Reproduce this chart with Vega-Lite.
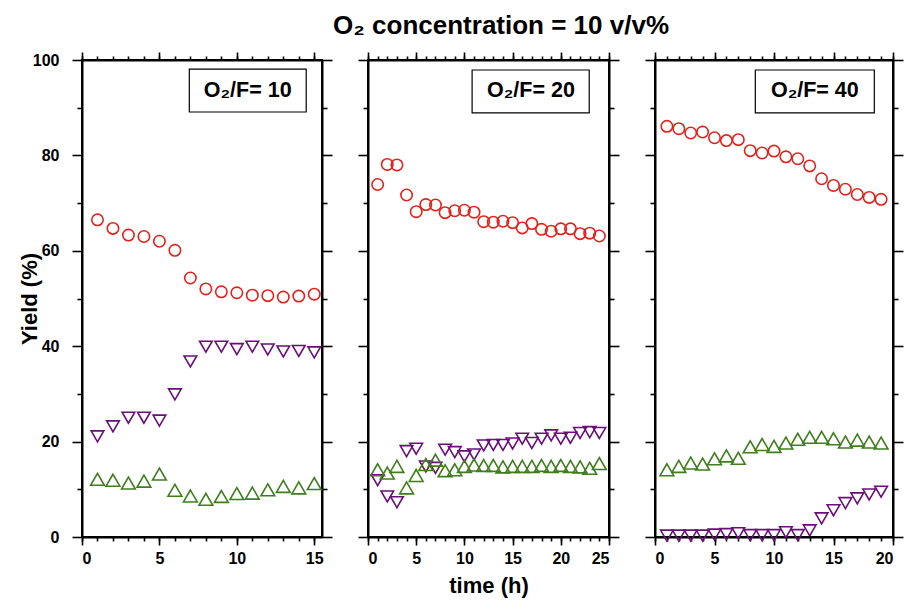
{
  "$schema": "https://vega.github.io/schema/vega-lite/v6.json",
  "background": "white",
  "padding": {"left": 17, "top": 13, "right": 5, "bottom": 5},
  "title": {"text": "O₂ concentration = 10 v/v%", "font": "Liberation Sans", "fontSize": 26, "fontWeight": "bold", "color": "black", "anchor": "middle", "offset": 11, "dx": 40},
  "spacing": 22,
  "config": {
    "view": {"stroke": "black", "strokeWidth": 2},
    "axis": {"grid": false, "domainColor": "black", "domainWidth": 2, "tickColor": "black", "tickWidth": 1.6, "labelFont": "Liberation Sans", "labelColor": "black", "labelFontSize": 16, "labelFontWeight": "bold", "titleFont": "Liberation Sans", "titleColor": "black", "titleFontWeight": "bold", "titleFontSize": 22}
  },
  "datasets": {
    "yields": [
      {"panel": "10", "t": 1, "series": "S1", "y": 66.5}, {"panel": "10", "t": 2, "series": "S1", "y": 64.7}, {"panel": "10", "t": 3, "series": "S1", "y": 63.3}, {"panel": "10", "t": 4, "series": "S1", "y": 63.0}, {"panel": "10", "t": 5, "series": "S1", "y": 62.0}, {"panel": "10", "t": 6, "series": "S1", "y": 60.1}, {"panel": "10", "t": 7, "series": "S1", "y": 54.3}, {"panel": "10", "t": 8, "series": "S1", "y": 52.0}, {"panel": "10", "t": 9, "series": "S1", "y": 51.4}, {"panel": "10", "t": 10, "series": "S1", "y": 51.2}, {"panel": "10", "t": 11, "series": "S1", "y": 50.7}, {"panel": "10", "t": 12, "series": "S1", "y": 50.6}, {"panel": "10", "t": 13, "series": "S1", "y": 50.3}, {"panel": "10", "t": 14, "series": "S1", "y": 50.5}, {"panel": "10", "t": 15, "series": "S1", "y": 50.9},
      {"panel": "10", "t": 1, "series": "S2", "y": 21.1}, {"panel": "10", "t": 2, "series": "S2", "y": 23.2}, {"panel": "10", "t": 3, "series": "S2", "y": 25.0}, {"panel": "10", "t": 4, "series": "S2", "y": 25.0}, {"panel": "10", "t": 5, "series": "S2", "y": 24.4}, {"panel": "10", "t": 6, "series": "S2", "y": 29.9}, {"panel": "10", "t": 7, "series": "S2", "y": 36.8}, {"panel": "10", "t": 8, "series": "S2", "y": 39.9}, {"panel": "10", "t": 9, "series": "S2", "y": 39.9}, {"panel": "10", "t": 10, "series": "S2", "y": 39.4}, {"panel": "10", "t": 11, "series": "S2", "y": 39.9}, {"panel": "10", "t": 12, "series": "S2", "y": 39.3}, {"panel": "10", "t": 13, "series": "S2", "y": 38.9}, {"panel": "10", "t": 14, "series": "S2", "y": 39.0}, {"panel": "10", "t": 15, "series": "S2", "y": 38.7},
      {"panel": "10", "t": 1, "series": "S3", "y": 12.1}, {"panel": "10", "t": 2, "series": "S3", "y": 11.9}, {"panel": "10", "t": 3, "series": "S3", "y": 11.3}, {"panel": "10", "t": 4, "series": "S3", "y": 11.7}, {"panel": "10", "t": 5, "series": "S3", "y": 13.2}, {"panel": "10", "t": 6, "series": "S3", "y": 9.8}, {"panel": "10", "t": 7, "series": "S3", "y": 8.6}, {"panel": "10", "t": 8, "series": "S3", "y": 7.9}, {"panel": "10", "t": 9, "series": "S3", "y": 8.5}, {"panel": "10", "t": 10, "series": "S3", "y": 9.1}, {"panel": "10", "t": 11, "series": "S3", "y": 9.2}, {"panel": "10", "t": 12, "series": "S3", "y": 9.9}, {"panel": "10", "t": 13, "series": "S3", "y": 10.6}, {"panel": "10", "t": 14, "series": "S3", "y": 10.3}, {"panel": "10", "t": 15, "series": "S3", "y": 11.2},

      {"panel": "20", "t": 1, "series": "S1", "y": 73.9}, {"panel": "20", "t": 2, "series": "S1", "y": 78.1}, {"panel": "20", "t": 3, "series": "S1", "y": 78.0}, {"panel": "20", "t": 4, "series": "S1", "y": 71.7}, {"panel": "20", "t": 5, "series": "S1", "y": 68.2}, {"panel": "20", "t": 6, "series": "S1", "y": 69.7}, {"panel": "20", "t": 7, "series": "S1", "y": 69.6}, {"panel": "20", "t": 8, "series": "S1", "y": 68.0}, {"panel": "20", "t": 9, "series": "S1", "y": 68.4}, {"panel": "20", "t": 10, "series": "S1", "y": 68.5}, {"panel": "20", "t": 11, "series": "S1", "y": 68.1}, {"panel": "20", "t": 12, "series": "S1", "y": 66.1}, {"panel": "20", "t": 13, "series": "S1", "y": 66.0}, {"panel": "20", "t": 14, "series": "S1", "y": 66.2}, {"panel": "20", "t": 15, "series": "S1", "y": 65.9}, {"panel": "20", "t": 16, "series": "S1", "y": 64.8}, {"panel": "20", "t": 17, "series": "S1", "y": 65.7}, {"panel": "20", "t": 18, "series": "S1", "y": 64.5}, {"panel": "20", "t": 19, "series": "S1", "y": 64.1}, {"panel": "20", "t": 20, "series": "S1", "y": 64.6}, {"panel": "20", "t": 21, "series": "S1", "y": 64.6}, {"panel": "20", "t": 22, "series": "S1", "y": 63.6}, {"panel": "20", "t": 23, "series": "S1", "y": 63.7}, {"panel": "20", "t": 24, "series": "S1", "y": 63.1},
      {"panel": "20", "t": 1, "series": "S2", "y": 11.9}, {"panel": "20", "t": 2, "series": "S2", "y": 8.5}, {"panel": "20", "t": 3, "series": "S2", "y": 7.3}, {"panel": "20", "t": 4, "series": "S2", "y": 18.0}, {"panel": "20", "t": 5, "series": "S2", "y": 18.5}, {"panel": "20", "t": 6, "series": "S2", "y": 14.8}, {"panel": "20", "t": 7, "series": "S2", "y": 14.5}, {"panel": "20", "t": 8, "series": "S2", "y": 18.3}, {"panel": "20", "t": 9, "series": "S2", "y": 17.8}, {"panel": "20", "t": 10, "series": "S2", "y": 16.9}, {"panel": "20", "t": 11, "series": "S2", "y": 17.3}, {"panel": "20", "t": 12, "series": "S2", "y": 19.2}, {"panel": "20", "t": 13, "series": "S2", "y": 19.3}, {"panel": "20", "t": 14, "series": "S2", "y": 19.3}, {"panel": "20", "t": 15, "series": "S2", "y": 19.6}, {"panel": "20", "t": 16, "series": "S2", "y": 20.6}, {"panel": "20", "t": 17, "series": "S2", "y": 19.7}, {"panel": "20", "t": 18, "series": "S2", "y": 20.6}, {"panel": "20", "t": 19, "series": "S2", "y": 21.3}, {"panel": "20", "t": 20, "series": "S2", "y": 20.6}, {"panel": "20", "t": 21, "series": "S2", "y": 20.8}, {"panel": "20", "t": 22, "series": "S2", "y": 21.8}, {"panel": "20", "t": 23, "series": "S2", "y": 22.0}, {"panel": "20", "t": 24, "series": "S2", "y": 21.8},
      {"panel": "20", "t": 1, "series": "S3", "y": 14.1}, {"panel": "20", "t": 2, "series": "S3", "y": 13.4}, {"panel": "20", "t": 3, "series": "S3", "y": 14.8}, {"panel": "20", "t": 4, "series": "S3", "y": 10.3}, {"panel": "20", "t": 5, "series": "S3", "y": 12.9}, {"panel": "20", "t": 6, "series": "S3", "y": 15.2}, {"panel": "20", "t": 7, "series": "S3", "y": 16.1}, {"panel": "20", "t": 8, "series": "S3", "y": 13.9}, {"panel": "20", "t": 9, "series": "S3", "y": 14.1}, {"panel": "20", "t": 10, "series": "S3", "y": 14.8}, {"panel": "20", "t": 11, "series": "S3", "y": 15.1}, {"panel": "20", "t": 12, "series": "S3", "y": 15.0}, {"panel": "20", "t": 13, "series": "S3", "y": 15.0}, {"panel": "20", "t": 14, "series": "S3", "y": 14.7}, {"panel": "20", "t": 15, "series": "S3", "y": 14.8}, {"panel": "20", "t": 16, "series": "S3", "y": 14.8}, {"panel": "20", "t": 17, "series": "S3", "y": 14.8}, {"panel": "20", "t": 18, "series": "S3", "y": 15.0}, {"panel": "20", "t": 19, "series": "S3", "y": 14.8}, {"panel": "20", "t": 20, "series": "S3", "y": 15.0}, {"panel": "20", "t": 21, "series": "S3", "y": 14.8}, {"panel": "20", "t": 22, "series": "S3", "y": 14.7}, {"panel": "20", "t": 23, "series": "S3", "y": 14.4}, {"panel": "20", "t": 24, "series": "S3", "y": 15.4},

      {"panel": "40", "t": 1, "series": "S1", "y": 86.1}, {"panel": "40", "t": 2, "series": "S1", "y": 85.6}, {"panel": "40", "t": 3, "series": "S1", "y": 84.7}, {"panel": "40", "t": 4, "series": "S1", "y": 84.9}, {"panel": "40", "t": 5, "series": "S1", "y": 83.7}, {"panel": "40", "t": 6, "series": "S1", "y": 83.1}, {"panel": "40", "t": 7, "series": "S1", "y": 83.3}, {"panel": "40", "t": 8, "series": "S1", "y": 81.0}, {"panel": "40", "t": 9, "series": "S1", "y": 80.5}, {"panel": "40", "t": 10, "series": "S1", "y": 80.9}, {"panel": "40", "t": 11, "series": "S1", "y": 79.7}, {"panel": "40", "t": 12, "series": "S1", "y": 79.3}, {"panel": "40", "t": 13, "series": "S1", "y": 77.8}, {"panel": "40", "t": 14, "series": "S1", "y": 75.1}, {"panel": "40", "t": 15, "series": "S1", "y": 73.7}, {"panel": "40", "t": 16, "series": "S1", "y": 72.9}, {"panel": "40", "t": 17, "series": "S1", "y": 71.8}, {"panel": "40", "t": 18, "series": "S1", "y": 71.2}, {"panel": "40", "t": 19, "series": "S1", "y": 70.8},
      {"panel": "40", "t": 1, "series": "S2", "y": 0.3}, {"panel": "40", "t": 2, "series": "S2", "y": 0.3}, {"panel": "40", "t": 3, "series": "S2", "y": 0.3}, {"panel": "40", "t": 4, "series": "S2", "y": 0.3}, {"panel": "40", "t": 5, "series": "S2", "y": 0.5}, {"panel": "40", "t": 6, "series": "S2", "y": 0.6}, {"panel": "40", "t": 7, "series": "S2", "y": 0.8}, {"panel": "40", "t": 8, "series": "S2", "y": 0.4}, {"panel": "40", "t": 9, "series": "S2", "y": 0.4}, {"panel": "40", "t": 10, "series": "S2", "y": 0.4}, {"panel": "40", "t": 11, "series": "S2", "y": 1.0}, {"panel": "40", "t": 12, "series": "S2", "y": 0.4}, {"panel": "40", "t": 13, "series": "S2", "y": 1.4}, {"panel": "40", "t": 14, "series": "S2", "y": 3.9}, {"panel": "40", "t": 15, "series": "S2", "y": 5.6}, {"panel": "40", "t": 16, "series": "S2", "y": 7.1}, {"panel": "40", "t": 17, "series": "S2", "y": 8.1}, {"panel": "40", "t": 18, "series": "S2", "y": 8.9}, {"panel": "40", "t": 19, "series": "S2", "y": 9.5},
      {"panel": "40", "t": 1, "series": "S3", "y": 14.1}, {"panel": "40", "t": 2, "series": "S3", "y": 14.8}, {"panel": "40", "t": 3, "series": "S3", "y": 15.5}, {"panel": "40", "t": 4, "series": "S3", "y": 15.3}, {"panel": "40", "t": 5, "series": "S3", "y": 16.4}, {"panel": "40", "t": 6, "series": "S3", "y": 17.0}, {"panel": "40", "t": 7, "series": "S3", "y": 16.5}, {"panel": "40", "t": 8, "series": "S3", "y": 18.9}, {"panel": "40", "t": 9, "series": "S3", "y": 19.4}, {"panel": "40", "t": 10, "series": "S3", "y": 19.0}, {"panel": "40", "t": 11, "series": "S3", "y": 19.7}, {"panel": "40", "t": 12, "series": "S3", "y": 20.5}, {"panel": "40", "t": 13, "series": "S3", "y": 20.9}, {"panel": "40", "t": 14, "series": "S3", "y": 20.9}, {"panel": "40", "t": 15, "series": "S3", "y": 20.6}, {"panel": "40", "t": 16, "series": "S3", "y": 19.9}, {"panel": "40", "t": 17, "series": "S3", "y": 20.3}, {"panel": "40", "t": 18, "series": "S3", "y": 19.9}, {"panel": "40", "t": 19, "series": "S3", "y": 19.7}
    ]
  },
  "hconcat": [
    {
      "width": 240, "height": 477,
      "resolve": {"axis": {"x": "independent", "y": "independent"}},
      "layer": [
        {
          "data": {"values": [{}]},
          "mark": {"type": "rect", "fill": "white", "stroke": "black", "strokeWidth": 1.2},
          "encoding": {
            "x": {"datum": 6.93, "type": "quantitative", "scale": {"domain": [0, 15.5], "nice": false, "zero": false}, "axis": {"orient": "top", "values": [0, 5, 10, 15], "tickSize": 8, "labels": false, "title": null}},
            "x2": {"datum": 14.48},
            "y": {"datum": 98.1, "type": "quantitative", "scale": {"domain": [0, 100], "nice": false}, "axis": {"orient": "right", "values": [0, 20, 40, 60, 80, 100], "tickSize": 10, "labels": false, "title": null}},
            "y2": {"datum": 89.1}
          }
        },
        {
          "data": {"values": [{"label": "O₂/F= 10"}]},
          "mark": {"type": "text", "font": "Liberation Sans", "fontSize": 21.5, "fontWeight": "bold", "color": "black", "baseline": "middle", "align": "center"},
          "encoding": {
            "x": {"datum": 10.7, "type": "quantitative", "scale": {"domain": [0, 15.5], "nice": false, "zero": false}, "axis": {"orient": "bottom", "values": [0, 1, 2, 3, 4, 5, 6, 7, 8, 9, 10, 11, 12, 13, 14, 15], "tickSize": 4, "labels": false, "domain": false, "title": null}},
            "y": {"datum": 93.6, "type": "quantitative", "scale": {"domain": [0, 100], "nice": false}, "axis": {"orient": "left", "values": [10, 30, 50, 70, 90], "tickSize": 5, "labels": false, "domain": false, "title": null}},
            "text": {"field": "label"}
          }
        },
        {
          "data": {"values": [{}]},
          "mark": {"type": "point", "opacity": 0},
          "encoding": {
            "x": {"datum": 0, "type": "quantitative", "scale": {"domain": [0, 15.5], "nice": false, "zero": false}, "axis": {"orient": "top", "values": [0, 1, 2, 3, 4, 5, 6, 7, 8, 9, 10, 11, 12, 13, 14, 15], "tickSize": 4, "labels": false, "domain": false, "title": null}},
            "y": {"datum": 0, "type": "quantitative", "scale": {"domain": [0, 100], "nice": false}, "axis": {"orient": "right", "values": [10, 30, 50, 70, 90], "tickSize": 5, "labels": false, "domain": false, "title": null}}
          }
        },
        {
          "data": {"name": "yields"},
          "transform": [{"filter": "datum.panel == '10'"}],
          "mark": {"type": "point", "filled": false, "strokeWidth": 1.6, "opacity": 1},
          "encoding": {
            "x": {"field": "t", "type": "quantitative", "scale": {"domain": [0, 15.5], "nice": false, "zero": false}, "axis": {"orient": "bottom", "values": [0, 5, 10, 15], "tickSize": 8, "labelPadding": 5, "title": null}},
            "y": {"field": "y", "type": "quantitative", "scale": {"domain": [0, 100], "nice": false}, "axis": {"orient": "left", "values": [0, 20, 40, 60, 80, 100], "tickSize": 10, "labelPadding": 13, "title": "Yield (%)", "titlePadding": -9}},
            "color": {"field": "series", "type": "nominal", "scale": {"domain": ["S1", "S2", "S3"], "range": ["#e3211c", "#6a0f7a", "#3f7d1e"]}, "legend": null},
            "shape": {"field": "series", "type": "nominal", "scale": {"domain": ["S1", "S2", "S3"], "range": ["circle", "triangle-down", "triangle-up"]}, "legend": null},
            "size": {"field": "series", "type": "ordinal", "scale": {"domain": ["S1", "S2", "S3"], "range": [130, 190, 190]}, "legend": null}
          }
        }
      ]
    },
    {
      "width": 241, "height": 477,
      "resolve": {"axis": {"x": "independent", "y": "independent"}},
      "layer": [
        {
          "data": {"values": [{}]},
          "mark": {"type": "rect", "fill": "white", "stroke": "black", "strokeWidth": 1.2},
          "encoding": {
            "x": {"datum": 10.8, "type": "quantitative", "scale": {"domain": [0, 25], "nice": false, "zero": false}, "axis": {"orient": "top", "values": [0, 5, 10, 15, 20, 25], "tickSize": 8, "labels": false, "title": null}},
            "x2": {"datum": 22.95},
            "y": {"datum": 97.9, "type": "quantitative", "scale": {"domain": [0, 100], "nice": false}, "axis": {"orient": "right", "values": [0, 20, 40, 60, 80, 100], "tickSize": 10, "labels": false, "title": null}},
            "y2": {"datum": 88.9}
          }
        },
        {
          "data": {"values": [{"label": "O₂/F= 20"}]},
          "mark": {"type": "text", "font": "Liberation Sans", "fontSize": 21.5, "fontWeight": "bold", "color": "black", "baseline": "middle", "align": "center"},
          "encoding": {
            "x": {"datum": 16.9, "type": "quantitative", "scale": {"domain": [0, 25], "nice": false, "zero": false}, "axis": {"orient": "bottom", "values": [0, 1, 2, 3, 4, 5, 6, 7, 8, 9, 10, 11, 12, 13, 14, 15, 16, 17, 18, 19, 20, 21, 22, 23, 24, 25], "tickSize": 4, "labels": false, "domain": false, "title": null}},
            "y": {"datum": 93.4, "type": "quantitative", "scale": {"domain": [0, 100], "nice": false}, "axis": {"orient": "left", "values": [10, 30, 50, 70, 90], "tickSize": 5, "labels": false, "domain": false, "title": null}},
            "text": {"field": "label"}
          }
        },
        {
          "data": {"values": [{}]},
          "mark": {"type": "point", "opacity": 0},
          "encoding": {
            "x": {"datum": 0, "type": "quantitative", "scale": {"domain": [0, 25], "nice": false, "zero": false}, "axis": {"orient": "top", "values": [0, 1, 2, 3, 4, 5, 6, 7, 8, 9, 10, 11, 12, 13, 14, 15, 16, 17, 18, 19, 20, 21, 22, 23, 24, 25], "tickSize": 4, "labels": false, "domain": false, "title": null}},
            "y": {"datum": 0, "type": "quantitative", "scale": {"domain": [0, 100], "nice": false}, "axis": {"orient": "right", "values": [10, 30, 50, 70, 90], "tickSize": 5, "labels": false, "domain": false, "title": null}}
          }
        },
        {
          "data": {"name": "yields"},
          "transform": [{"filter": "datum.panel == '20'"}],
          "mark": {"type": "point", "filled": false, "strokeWidth": 1.6, "opacity": 1},
          "encoding": {
            "x": {"field": "t", "type": "quantitative", "scale": {"domain": [0, 25], "nice": false, "zero": false}, "axis": {"orient": "bottom", "values": [0, 5, 10, 15, 20, 25], "tickSize": 8, "labelPadding": 5, "title": "time (h)", "titlePadding": 9}},
            "y": {"field": "y", "type": "quantitative", "scale": {"domain": [0, 100], "nice": false}, "axis": {"orient": "left", "values": [0, 20, 40, 60, 80, 100], "tickSize": 10, "labels": false, "title": null}},
            "color": {"field": "series", "type": "nominal", "scale": {"domain": ["S1", "S2", "S3"], "range": ["#e3211c", "#6a0f7a", "#3f7d1e"]}, "legend": null},
            "shape": {"field": "series", "type": "nominal", "scale": {"domain": ["S1", "S2", "S3"], "range": ["circle", "triangle-down", "triangle-up"]}, "legend": null},
            "size": {"field": "series", "type": "ordinal", "scale": {"domain": ["S1", "S2", "S3"], "range": [130, 190, 190]}, "legend": null}
          }
        }
      ]
    },
    {
      "width": 238, "height": 477,
      "resolve": {"axis": {"x": "independent", "y": "independent"}},
      "layer": [
        {
          "data": {"values": [{}]},
          "mark": {"type": "rect", "fill": "white", "stroke": "black", "strokeWidth": 1.2},
          "encoding": {
            "x": {"datum": 8.43, "type": "quantitative", "scale": {"domain": [0, 20], "nice": false, "zero": false}, "axis": {"orient": "top", "values": [0, 5, 10, 15, 20], "tickSize": 8, "labels": false, "title": null}},
            "x2": {"datum": 18.43},
            "y": {"datum": 97.9, "type": "quantitative", "scale": {"domain": [0, 100], "nice": false}, "axis": {"orient": "right", "values": [0, 20, 40, 60, 80, 100], "tickSize": 10, "labels": false, "title": null}},
            "y2": {"datum": 88.9}
          }
        },
        {
          "data": {"values": [{"label": "O₂/F= 40"}]},
          "mark": {"type": "text", "font": "Liberation Sans", "fontSize": 21.5, "fontWeight": "bold", "color": "black", "baseline": "middle", "align": "center"},
          "encoding": {
            "x": {"datum": 13.43, "type": "quantitative", "scale": {"domain": [0, 20], "nice": false, "zero": false}, "axis": {"orient": "bottom", "values": [0, 1, 2, 3, 4, 5, 6, 7, 8, 9, 10, 11, 12, 13, 14, 15, 16, 17, 18, 19, 20], "tickSize": 4, "labels": false, "domain": false, "title": null}},
            "y": {"datum": 93.4, "type": "quantitative", "scale": {"domain": [0, 100], "nice": false}, "axis": {"orient": "left", "values": [10, 30, 50, 70, 90], "tickSize": 5, "labels": false, "domain": false, "title": null}},
            "text": {"field": "label"}
          }
        },
        {
          "data": {"values": [{}]},
          "mark": {"type": "point", "opacity": 0},
          "encoding": {
            "x": {"datum": 0, "type": "quantitative", "scale": {"domain": [0, 20], "nice": false, "zero": false}, "axis": {"orient": "top", "values": [0, 1, 2, 3, 4, 5, 6, 7, 8, 9, 10, 11, 12, 13, 14, 15, 16, 17, 18, 19, 20], "tickSize": 4, "labels": false, "domain": false, "title": null}},
            "y": {"datum": 0, "type": "quantitative", "scale": {"domain": [0, 100], "nice": false}, "axis": {"orient": "right", "values": [10, 30, 50, 70, 90], "tickSize": 5, "labels": false, "domain": false, "title": null}}
          }
        },
        {
          "data": {"name": "yields"},
          "transform": [{"filter": "datum.panel == '40'"}],
          "mark": {"type": "point", "filled": false, "strokeWidth": 1.6, "opacity": 1},
          "encoding": {
            "x": {"field": "t", "type": "quantitative", "scale": {"domain": [0, 20], "nice": false, "zero": false}, "axis": {"orient": "bottom", "values": [0, 5, 10, 15, 20], "tickSize": 8, "labelPadding": 5, "title": null}},
            "y": {"field": "y", "type": "quantitative", "scale": {"domain": [0, 100], "nice": false}, "axis": {"orient": "left", "values": [0, 20, 40, 60, 80, 100], "tickSize": 10, "labels": false, "title": null}},
            "color": {"field": "series", "type": "nominal", "scale": {"domain": ["S1", "S2", "S3"], "range": ["#e3211c", "#6a0f7a", "#3f7d1e"]}, "legend": null},
            "shape": {"field": "series", "type": "nominal", "scale": {"domain": ["S1", "S2", "S3"], "range": ["circle", "triangle-down", "triangle-up"]}, "legend": null},
            "size": {"field": "series", "type": "ordinal", "scale": {"domain": ["S1", "S2", "S3"], "range": [130, 190, 190]}, "legend": null}
          }
        }
      ]
    }
  ]
}
